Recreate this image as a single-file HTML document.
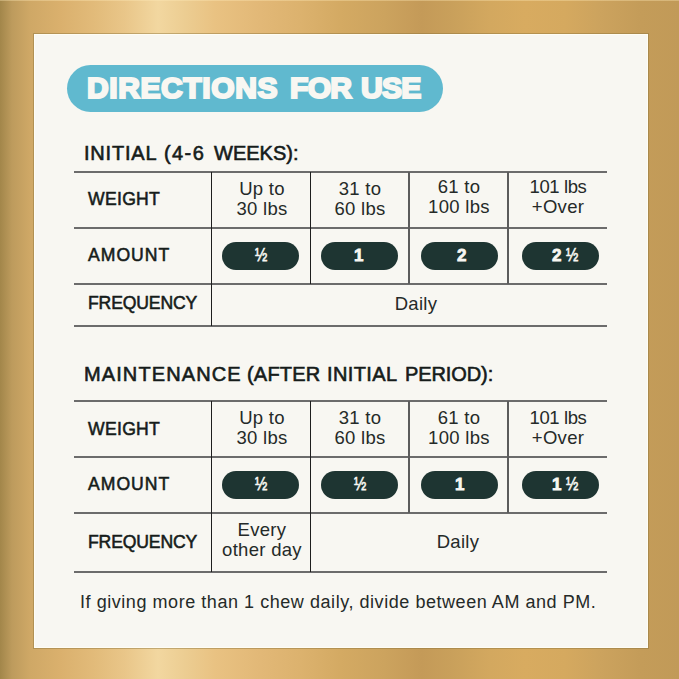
<!DOCTYPE html>
<html><head><meta charset="utf-8"><title>Directions for use</title>
<style>
html,body{margin:0;padding:0}
body{width:679px;height:679px;overflow:hidden;position:relative;
background:linear-gradient(90deg,#a2864a 0px,#bd9b5d 12px,#cfa866 30px,#dab06d 60px,#e2bb7a 95px,#e9c689 125px,#f2d7a0 158px,#eccd92 185px,#e9c282 215px,#e2b877 260px,#dcb26e 300px,#d4aa63 340px,#cca35e 385px,#c49a58 422px,#c9a05b 452px,#d3a85f 490px,#d8ab60 525px,#d5a95f 565px,#cca35e 600px,#c49c59 640px,#c19a58 679px);
font-family:"Liberation Sans",Arial,sans-serif;color:#161c1a}
.card{position:absolute;left:34px;top:34px;width:614px;height:614px;background:#f8f7f2;box-shadow:0 0 0 1px rgba(140,115,60,0.45),inset 0 0 0 1px #fffdf4}
.t{position:absolute;white-space:nowrap;line-height:1}
.title{position:absolute;left:67px;top:65px;width:376px;height:47px;border-radius:24px;background:#60b9cf}
.title span{position:absolute;top:8px;font-weight:bold;font-size:30px;line-height:1;color:#f8f7f2;white-space:nowrap;-webkit-text-stroke:2.2px #f8f7f2}
.h{font-size:20px;-webkit-text-stroke:0.6px #161c1a}
.h span{position:absolute;top:0}
.lab{font-size:17.6px;-webkit-text-stroke:0.55px #161c1a}
.c{color:#252a28;font-size:18.5px;text-align:center;width:120px;line-height:20px;letter-spacing:0.3px}
.hl{position:absolute;height:2px;background:#6c6c6c;left:74px;width:533px}
.vl{position:absolute;width:1px;background:#1e1e1e}
.vg{position:absolute;width:2px;background:#5c5c5c}
.p{position:absolute;height:28px;width:77px;border-radius:14px;background:#1e3532}
.pt{position:absolute;color:#f8f7f2;font-weight:bold;font-size:17px;line-height:1;white-space:nowrap;-webkit-text-stroke:0.8px #f8f7f2}
.pt i{font-style:normal;display:inline-block;font-weight:normal;font-size:17.5px;-webkit-text-stroke:0.6px #f8f7f2;transform:scaleX(0.84);transform-origin:0 0}
.f{color:#252a28;font-size:18px;letter-spacing:0.55px}
</style></head><body>
<div style="position:absolute;left:0;top:0;width:679px;height:1px;background:rgba(255,235,185,0.35)"></div>
<div class="card"></div>
<div class="title"><span style="left:20px;letter-spacing:0.6px">DIRECTIONS </span><span style="left:223px;letter-spacing:-0.7px">FOR </span><span style="left:294px;letter-spacing:-0.7px">USE</span></div>

<div class="t h" style="left:84px;top:143px"><span style="left:0;letter-spacing:0.8px">INITIAL </span><span style="left:80px;letter-spacing:1.4px">(4-6 </span><span style="left:130px;letter-spacing:0px">WEEKS):</span></div>

<!-- table 1 lines -->
<div class="hl" style="top:171px"></div>
<div class="hl" style="top:227px"></div>
<div class="hl" style="top:283px"></div>
<div class="hl" style="top:325px"></div>
<div class="vl" style="left:211px;top:172px;height:154px"></div>
<div class="vl" style="left:310px;top:172px;height:112px"></div>
<div class="vg" style="left:408px;top:172px;height:112px"></div>
<div class="vg" style="left:507px;top:172px;height:112px"></div>

<div class="t lab" style="left:88px;top:191px;letter-spacing:0.3px">WEIGHT</div>
<div class="t lab" style="left:88px;top:247px;letter-spacing:1px">AMOUNT</div>
<div class="t lab" style="left:88px;top:295px;letter-spacing:-0.15px">FREQUENCY</div>

<div class="t c" style="left:202px;top:179px">Up to<br>30 lbs</div>
<div class="t c" style="left:300px;top:179px">31 to<br>60 lbs</div>
<div class="t c" style="left:399px;top:177px">61 to<br>100 lbs</div>
<div class="t c" style="left:498px;top:177px"><span style="letter-spacing:-0.4px">101 lbs</span><br>+Over</div>

<div class="p" style="left:222px;top:242px"></div>
<div class="p" style="left:321px;top:242px"></div>
<div class="p" style="left:421px;top:242px"></div>
<div class="p" style="left:522px;top:242px"></div>
<div class="pt" style="left:255px;top:247px"><i>½</i></div>
<div class="pt" style="left:354px;top:247px">1</div>
<div class="pt" style="left:457px;top:247px">2</div>
<div class="pt" style="left:552px;top:247px">2 <i>½</i></div>

<div class="t c" style="left:356px;top:294px">Daily</div>

<div class="t h" style="left:84px;top:364px"><span style="left:0;letter-spacing:1.1px">MAINTENANCE </span><span style="left:163px;letter-spacing:0.2px">(AFTER </span><span style="left:243px;letter-spacing:0.4px">INITIAL </span><span style="left:321px;letter-spacing:-0.1px">PERIOD):</span></div>

<!-- table 2 lines -->
<div class="hl" style="top:400px"></div>
<div class="hl" style="top:456px"></div>
<div class="hl" style="top:512px"></div>
<div class="hl" style="top:571px"></div>
<div class="vl" style="left:211px;top:401px;height:171px"></div>
<div class="vl" style="left:310px;top:401px;height:171px"></div>
<div class="vg" style="left:408px;top:401px;height:112px"></div>
<div class="vg" style="left:507px;top:401px;height:112px"></div>

<div class="t lab" style="left:88px;top:421px;letter-spacing:0.3px">WEIGHT</div>
<div class="t lab" style="left:88px;top:476px;letter-spacing:1px">AMOUNT</div>
<div class="t lab" style="left:88px;top:534px;letter-spacing:-0.15px">FREQUENCY</div>

<div class="t c" style="left:202px;top:408px">Up to<br>30 lbs</div>
<div class="t c" style="left:300px;top:408px">31 to<br>60 lbs</div>
<div class="t c" style="left:399px;top:408px">61 to<br>100 lbs</div>
<div class="t c" style="left:498px;top:408px"><span style="letter-spacing:-0.4px">101 lbs</span><br>+Over</div>

<div class="p" style="left:222px;top:471px"></div>
<div class="p" style="left:321px;top:471px"></div>
<div class="p" style="left:421px;top:471px"></div>
<div class="p" style="left:522px;top:471px"></div>
<div class="pt" style="left:255px;top:476px"><i>½</i></div>
<div class="pt" style="left:354px;top:476px"><i>½</i></div>
<div class="pt" style="left:455px;top:476px">1</div>
<div class="pt" style="left:552px;top:476px">1 <i>½</i></div>

<div class="t c" style="left:202px;top:520px">Every<br>other day</div>
<div class="t c" style="left:398px;top:532px">Daily</div>

<div class="t f" style="left:80px;top:593px">If giving more than 1 chew daily, divide between AM and PM.</div>
</body></html>
